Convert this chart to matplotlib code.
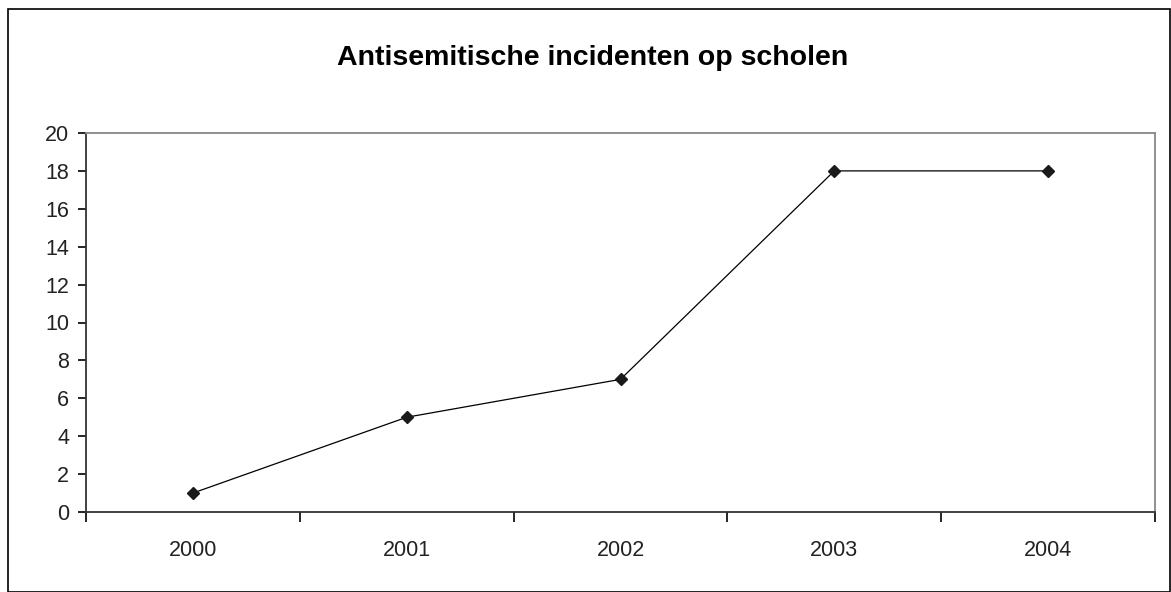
import matplotlib
matplotlib.use("Agg")
import matplotlib.pyplot as plt
from matplotlib.patches import Rectangle

plt.rcParams["font.family"] = ["Liberation Sans", "DejaVu Sans"]

years = ["2000", "2001", "2002", "2003", "2004"]
incidents = [1, 5, 7, 18, 18]
y_ticks = [0, 2, 4, 6, 8, 10, 12, 14, 16, 18, 20]

W, H = 1171, 592
fig = plt.figure(figsize=(W / 100, H / 100), dpi=100)

# outer chart frame
fig.patches.append(Rectangle((8 / W, 0.5 / H), (W - 9) / W, (H - 9.5) / H,
                             transform=fig.transFigure, fill=False,
                             edgecolor="black", linewidth=1.2))

ax = fig.add_axes([86 / W, (H - 512) / H, (1155 - 86) / W, (512 - 133) / H])
x = list(range(len(years)))
ax.plot(x, incidents, color="black", linewidth=0.9, marker="D",
        markersize=6.5, markerfacecolor="#1a1a1a", markeredgecolor="#1a1a1a")

ax.set_xlim(-0.5, len(years) - 0.5)
ax.set_ylim(0, 20)
ax.set_yticks(y_ticks)
ax.set_yticklabels([str(v) for v in y_ticks], fontsize=15.5, color="#222222")
ax.set_xticks(x)
ax.set_xticklabels(years, fontsize=15.5, color="#222222")
ax.tick_params(axis="x", which="major", length=0, pad=20)
ax.set_xticks([i - 0.5 for i in range(len(years) + 1)], minor=True)
ax.tick_params(axis="x", which="minor", length=7, width=1.2, direction="out")
ax.tick_params(axis="y", length=6, width=1.2, direction="out", pad=6)

for side in ["left", "bottom"]:
    ax.spines[side].set_color("#333333")
    ax.spines[side].set_linewidth(1.3)
for side in ["top", "right"]:
    ax.spines[side].set_color("#888888")
    ax.spines[side].set_linewidth(1.3)

fig.text(593 / W, 1 - 58 / H, "Antisemitische incidenten op scholen",
         ha="center", va="center", fontsize=20.5, fontweight="bold")

fig.savefig("out.png", dpi=100)
